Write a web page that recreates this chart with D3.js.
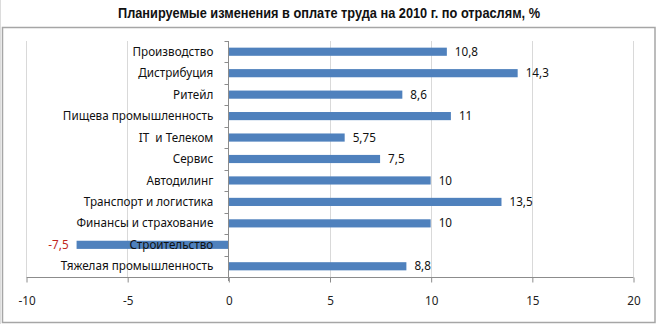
<!DOCTYPE html>
<html>
<head>
<meta charset="utf-8">
<script src="https://cdn.jsdelivr.net/npm/d3@7"></script>
<style>
  html, body { margin: 0; padding: 0; background: #fff; }
  svg { display: block; }
  text { white-space: pre; }
</style>
</head>
<body>
<svg id="chart" width="657" height="324"></svg>
<script>
// Planned wage changes for 2010 by industry, %
const categories = [
  "Производство",
  "Дистрибуция",
  "Ритейл",
  "Пищева промышленность",
  "IT  и Телеком",
  "Сервис",
  "Автодилинг",
  "Транспорт и логистика",
  "Финансы и страхование",
  "Строительство",
  "Тяжелая промышленность"
];
const values = [10.8, 14.3, 8.6, 11, 5.75, 7.5, 10, 13.5, 10, -7.5, 8.8];
const valueLabels = ["10,8", "14,3", "8,6", "11", "5,75", "7,5", "10", "13,5", "10", "-7,5", "8,8"];
const xTicks = [-10, -5, 0, 5, 10, 15, 20];
const title = "Планируемые изменения в оплате труда на 2010 г. по отраслям, %";

const W = 657, H = 324;
const plot = { left: 26, right: 633, top: 41, bottom: 277 };
const labelFont = "'Noto Sans', 'Open Sans', sans-serif";
const labelSize = 11.7;

const svg = d3.select("#chart");

// faint page edge and chart frame
svg.append("line")
  .attr("x1", 0.5).attr("x2", 0.5).attr("y1", 0).attr("y2", H)
  .attr("stroke", "#dcdcdc");
svg.append("rect")
  .attr("x", 2.5).attr("y", 27.5)
  .attr("width", 652.5).attr("height", 295)
  .attr("fill", "none").attr("stroke", "#a6a6a6").attr("stroke-width", 1.5);

// title, set in a condensed bold face
svg.append("text")
  .attr("x", 329).attr("y", 17.5)
  .attr("text-anchor", "middle")
  .attr("font-family", "'Liberation Sans', Arial, sans-serif")
  .attr("font-weight", "bold")
  .attr("font-size", 14.5)
  .attr("textLength", 422)
  .attr("lengthAdjust", "spacingAndGlyphs")
  .attr("fill", "#111")
  .text(title);

const x = d3.scaleLinear().domain([-10, 20]).range([plot.left, plot.right]);
const y = d3.scaleBand().domain(categories).range([plot.top, plot.bottom]).paddingInner(0).paddingOuter(0);

// vertical gridlines
svg.append("g")
  .selectAll("line")
  .data(xTicks.filter(d => d !== 0))
  .join("line")
  .attr("x1", d => Math.round(x(d)) + 0.5).attr("x2", d => Math.round(x(d)) + 0.5)
  .attr("y1", plot.top).attr("y2", plot.bottom)
  .attr("stroke", "#d9d9d9");

// bottom value axis
const xAxis = svg.append("g")
  .attr("transform", `translate(0.5,${plot.bottom + 0.5})`)
  .call(d3.axisBottom(x).tickValues(xTicks).tickSize(5).tickPadding(14).tickFormat(d3.format("d")));
xAxis.select(".domain").attr("stroke", "#8c8c8c").attr("d", `M${plot.left},0H${plot.right}`);
xAxis.selectAll(".tick line").attr("stroke", "#8c8c8c");
xAxis.selectAll(".tick text")
  .attr("font-family", labelFont).attr("font-size", labelSize).attr("fill", "#222")
  .text(d => d < 0 ? "-" + Math.abs(d) : d);

// bars
const barH = y.bandwidth() * 0.38;
svg.append("g")
  .selectAll("rect")
  .data(values)
  .join("rect")
  .attr("x", d => x(Math.min(0, d)))
  .attr("width", d => Math.abs(x(d) - x(0)))
  .attr("y", (d, i) => y(categories[i]) + (y.bandwidth() - barH) / 2)
  .attr("height", barH)
  .attr("fill", "#4f81bd");

// category axis along zero
const x0 = Math.round(x(0)) + 0.5;
svg.append("line")
  .attr("x1", x0).attr("x2", x0).attr("y1", plot.top).attr("y2", plot.bottom + 4)
  .attr("stroke", "#8c8c8c");
svg.append("g")
  .selectAll("line")
  .data(categories)
  .join("line")
  .attr("x1", x0 - 4).attr("x2", x0)
  .attr("y1", d => Math.round(y(d)) + 0.5).attr("y2", d => Math.round(y(d)) + 0.5)
  .attr("stroke", "#8c8c8c");

// category labels
svg.append("g")
  .selectAll("text")
  .data(categories)
  .join("text")
  .attr("x", x(0) - 15)
  .attr("y", d => y(d) + y.bandwidth() / 2)
  .attr("dy", "0.35em")
  .attr("text-anchor", "end")
  .attr("font-family", labelFont).attr("font-size", labelSize).attr("fill", "#111")
  .text(d => d);

// value labels
svg.append("g")
  .selectAll("text")
  .data(values)
  .join("text")
  .attr("x", d => d < 0 ? x(d) - 8 : x(d) + 8)
  .attr("y", (d, i) => y(categories[i]) + y.bandwidth() / 2)
  .attr("dy", "0.35em")
  .attr("text-anchor", d => d < 0 ? "end" : "start")
  .attr("font-family", labelFont).attr("font-size", labelSize)
  .attr("fill", d => d < 0 ? "#c0261c" : "#111")
  .text((d, i) => valueLabels[i]);
</script>
</body>
</html>
